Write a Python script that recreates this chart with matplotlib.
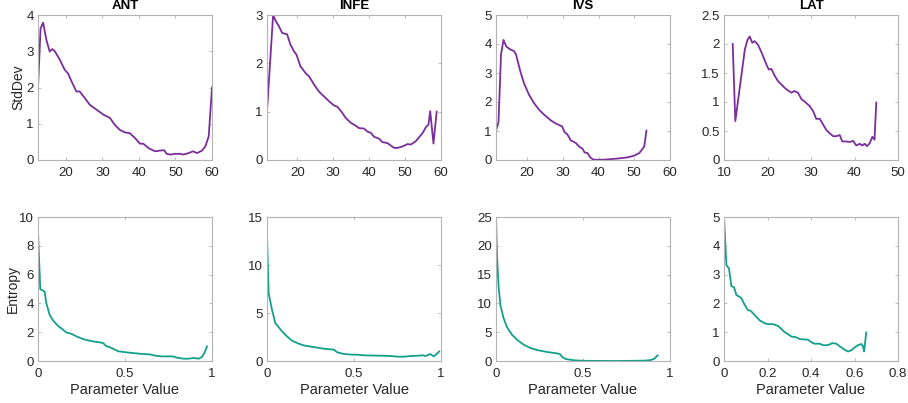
import matplotlib
matplotlib.use("Agg")
import matplotlib.pyplot as plt

plt.rcParams['font.family'] = ['Liberation Sans', 'DejaVu Sans']

titles = ["ANT", "INFE", "IVS", "LAT"]

# --- Standard deviation vs. parameter (top row) ---
ant_sd_x = [12.4, 13.1, 13.8, 14.7, 15.6, 16.3, 17.0, 18.4, 19.7, 20.6, 21.8, 22.9, 23.8, 25.2,
            26.6, 28.4, 30.3, 32.1, 33.4, 34.8, 36.2, 37.5, 38.9, 40.3, 41.2, 42.6, 44.4, 45.8,
            46.9, 47.6, 48.6, 49.9, 51.3, 52.2, 53.6, 54.8, 55.9, 57.3, 58.2, 59.1, 60.0]
ant_sd_y = [2.0, 3.63, 3.79, 3.31, 2.99, 3.06, 3.0, 2.76, 2.49, 2.39, 2.12, 1.89, 1.89, 1.71,
            1.52, 1.39, 1.25, 1.16, 0.97, 0.83, 0.76, 0.74, 0.61, 0.45, 0.45, 0.33, 0.24, 0.26,
            0.27, 0.17, 0.15, 0.17, 0.17, 0.15, 0.19, 0.24, 0.19, 0.26, 0.38, 0.65, 2.0]

infe_sd_x = [11.6, 13.3, 14.0, 14.9, 15.8, 17.2, 18.1, 19.1, 19.8, 20.9, 22.3, 23.3, 24.7, 26.0,
             27.4, 28.8, 30.2, 31.2, 32.6, 33.5, 34.9, 36.3, 37.2, 38.6, 39.5, 40.5, 41.4, 42.8,
             43.7, 45.1, 46.0, 47.0, 47.9, 49.3, 50.7, 51.6, 53.0, 53.9, 54.9, 55.8, 56.5, 57.0,
             57.9, 58.8]
infe_sd_y = [1.01, 3.0, 2.88, 2.77, 2.63, 2.60, 2.39, 2.25, 2.18, 1.94, 1.80, 1.73, 1.56, 1.42,
             1.32, 1.22, 1.13, 1.10, 0.97, 0.87, 0.77, 0.71, 0.66, 0.65, 0.59, 0.56, 0.48, 0.44,
             0.37, 0.35, 0.30, 0.25, 0.25, 0.28, 0.33, 0.32, 0.39, 0.47, 0.56, 0.68, 0.73, 1.01,
             0.34, 1.0]

ivs_sd_x = [11.3, 12.0, 12.7, 13.4, 14.2, 15.3, 16.3, 16.9, 18.1, 19.1, 20.5, 21.9, 23.3, 24.7,
            26.6, 28.0, 29.8, 30.5, 31.3, 32.2, 33.6, 34.5, 35.5, 36.1, 36.9, 37.8, 38.7, 41.5,
            45.3, 48.1, 50.0, 51.4, 52.3, 52.8, 53.4]
ivs_sd_y = [1.01, 1.30, 3.64, 4.14, 3.91, 3.81, 3.76, 3.64, 3.06, 2.66, 2.26, 1.97, 1.74, 1.57,
            1.37, 1.26, 1.16, 0.96, 0.88, 0.68, 0.59, 0.47, 0.39, 0.26, 0.24, 0.07, 0.01, 0.01,
            0.05, 0.09, 0.15, 0.24, 0.38, 0.47, 1.01]

lat_sd_x = [12.0, 12.6, 14.8, 15.4, 15.9, 16.5, 17.0, 17.8, 18.6, 19.3, 19.9, 20.3, 20.9, 21.6,
            22.4, 23.2, 24.3, 25.5, 26.2, 27.0, 27.8, 28.5, 29.7, 30.5, 31.2, 32.0, 32.8, 33.5,
            34.3, 35.1, 35.8, 36.6, 37.2, 38.1, 38.9, 39.7, 40.4, 41.2, 41.8, 42.3, 42.9, 43.5,
            44.1, 44.6, 45.0]
lat_sd_y = [2.0, 0.67, 1.91, 2.07, 2.13, 2.02, 2.05, 1.99, 1.86, 1.73, 1.62, 1.56, 1.57, 1.46,
            1.36, 1.30, 1.22, 1.16, 1.19, 1.16, 1.05, 1.01, 0.93, 0.84, 0.71, 0.71, 0.61, 0.52,
            0.46, 0.41, 0.41, 0.43, 0.32, 0.32, 0.31, 0.33, 0.25, 0.28, 0.25, 0.28, 0.24, 0.29,
            0.40, 0.35, 0.99]

# --- Entropy vs. parameter (bottom row) ---
ant_en_x = [0.0, 0.013, 0.029, 0.038, 0.048, 0.067, 0.087, 0.115, 0.144, 0.163, 0.192, 0.221,
            0.260, 0.288, 0.317, 0.356, 0.375, 0.390, 0.423, 0.462, 0.510, 0.548, 0.606, 0.644,
            0.673, 0.712, 0.750, 0.775, 0.798, 0.837, 0.865, 0.894, 0.923, 0.942, 0.956, 0.971]
ant_en_y = [8.96, 4.98, 4.88, 4.82, 4.01, 3.2, 2.81, 2.44, 2.17, 1.98, 1.89, 1.71,
            1.52, 1.43, 1.36, 1.29, 1.24, 1.06, 0.90, 0.67, 0.60, 0.55, 0.48, 0.46,
            0.37, 0.32, 0.32, 0.32, 0.23, 0.16, 0.16, 0.21, 0.16, 0.28, 0.55, 1.01]

infe_en_x = [0.0, 0.0096, 0.029, 0.048, 0.087, 0.115, 0.144, 0.183, 0.212, 0.269, 0.327, 0.385,
             0.404, 0.442, 0.490, 0.519, 0.558, 0.654, 0.712, 0.750, 0.788, 0.827, 0.865, 0.894,
             0.913, 0.938, 0.958, 0.971, 0.990]
infe_en_y = [13.0, 7.05, 5.32, 3.94, 3.08, 2.56, 2.11, 1.80, 1.62, 1.45, 1.28, 1.18,
             0.90, 0.73, 0.66, 0.66, 0.59, 0.55, 0.52, 0.45, 0.45, 0.52, 0.55, 0.59,
             0.52, 0.73, 0.48, 0.66, 1.0]

ivs_en_x = [0.0, 0.006, 0.015, 0.025, 0.044, 0.063, 0.092, 0.121, 0.160, 0.198, 0.237, 0.294,
            0.352, 0.367, 0.381, 0.400, 0.448, 0.506, 0.698, 0.850, 0.890, 0.910, 0.929]
ivs_en_y = [25.0, 18.1, 12.9, 9.7, 7.4, 5.9, 4.55, 3.69, 2.82, 2.25, 1.90, 1.56,
            1.32, 1.21, 0.69, 0.35, 0.12, 0.03, 0.0, 0.06, 0.17, 0.40, 0.98]

lat_en_x = [0.0, 0.011, 0.023, 0.034, 0.046, 0.057, 0.069, 0.080, 0.095, 0.110, 0.123, 0.141,
            0.164, 0.187, 0.202, 0.225, 0.248, 0.264, 0.279, 0.294, 0.310, 0.333, 0.348, 0.386,
            0.402, 0.417, 0.440, 0.455, 0.478, 0.498, 0.517, 0.532, 0.555, 0.570, 0.585, 0.601,
            0.616, 0.631, 0.639, 0.644, 0.654]
lat_en_y = [5.0, 3.33, 3.21, 2.60, 2.56, 2.29, 2.24, 2.18, 1.95, 1.77, 1.74, 1.60,
            1.41, 1.31, 1.28, 1.28, 1.22, 1.11, 1.00, 0.93, 0.85, 0.82, 0.76, 0.74,
            0.65, 0.60, 0.60, 0.55, 0.55, 0.62, 0.60, 0.51, 0.39, 0.33, 0.37, 0.47,
            0.55, 0.59, 0.51, 0.33, 0.99]

sd_series = [(ant_sd_x, ant_sd_y), (infe_sd_x, infe_sd_y), (ivs_sd_x, ivs_sd_y), (lat_sd_x, lat_sd_y)]
en_series = [(ant_en_x, ant_en_y), (infe_en_x, infe_en_y), (ivs_en_x, ivs_en_y), (lat_en_x, lat_en_y)]

sd_xlim = [(12.4, 60), (11.6, 60), (11.3, 60), (10, 50)]
sd_xticks = [[20, 30, 40, 50, 60], [20, 30, 40, 50, 60], [20, 30, 40, 50, 60], [10, 20, 30, 40, 50]]
sd_ylim = [(0, 4), (0, 3), (0, 5), (0, 2.5)]
sd_yticks = [[0, 1, 2, 3, 4], [0, 1, 2, 3], [0, 1, 2, 3, 4, 5], [0, 0.5, 1, 1.5, 2, 2.5]]
sd_yticklabels = [None, None, None, ["0", "0.5", "1", "1.5", "2", "2.5"]]

en_xlim = [(0, 1), (0, 1), (0, 1), (0, 0.8)]
en_xticks = [[0, 0.5, 1], [0, 0.5, 1], [0, 0.5, 1], [0, 0.2, 0.4, 0.6, 0.8]]
en_xticklabels = [["0", "0.5", "1"], ["0", "0.5", "1"], ["0", "0.5", "1"],
                  ["0", "0.2", "0.4", "0.6", "0.8"]]
en_ylim = [(0, 10), (0, 15), (0, 25), (0, 5)]
en_yticks = [[0, 2, 4, 6, 8, 10], [0, 5, 10, 15], [0, 5, 10, 15, 20, 25], [0, 1, 2, 3, 4, 5]]

PURPLE = "#7A2E9C"
TEAL = "#12A08A"
TEXT = "#262626"
EDGE = "#b3b3b3"

fig = plt.figure(figsize=(9.08, 4.03), dpi=100)
lefts = [38, 267, 496, 724]
W, H = 908, 403


def style(ax):
    for s in ax.spines.values():
        s.set_color(EDGE)
        s.set_linewidth(0.8)
    ax.tick_params(direction="in", length=2.5, width=0.6, color=EDGE,
                   labelsize=9.5, labelcolor=TEXT, top=True, right=True)
    ax.tick_params(axis="x", pad=5)
    ax.tick_params(axis="y", pad=3)


for i in range(4):
    l = lefts[i] / W
    w = 174 / W
    ax = fig.add_axes([l, 1 - 160 / H, w, 145 / H])
    x, y = sd_series[i]
    ax.plot(x, y, color=PURPLE, lw=1.3)
    ax.set_xlim(*sd_xlim[i])
    ax.set_ylim(*sd_ylim[i])
    ax.set_xticks(sd_xticks[i])
    ax.set_yticks(sd_yticks[i])
    if sd_yticklabels[i]:
        ax.set_yticklabels(sd_yticklabels[i])
    ax.set_title(titles[i], fontsize=9.5, fontweight="bold", color="black", pad=4)
    style(ax)
    if i == 0:
        ax.set_ylabel("StdDev", fontsize=10, color=TEXT)
        ax.yaxis.set_label_coords(-0.075, 0.5)

    ax2 = fig.add_axes([l, 1 - 361 / H, w, 144 / H])
    x, y = en_series[i]
    ax2.plot(x, y, color=TEAL, lw=1.3)
    ax2.set_xlim(*en_xlim[i])
    ax2.set_ylim(*en_ylim[i])
    ax2.set_xticks(en_xticks[i])
    ax2.set_xticklabels(en_xticklabels[i])
    ax2.set_yticks(en_yticks[i])
    ax2.set_xlabel("Parameter Value", fontsize=10.5, color=TEXT, labelpad=2)
    style(ax2)
    if i == 0:
        ax2.set_ylabel("Entropy", fontsize=10, color=TEXT)
        ax2.yaxis.set_label_coords(-0.103, 0.5)

fig.savefig("out.png", dpi=100, facecolor="white")
